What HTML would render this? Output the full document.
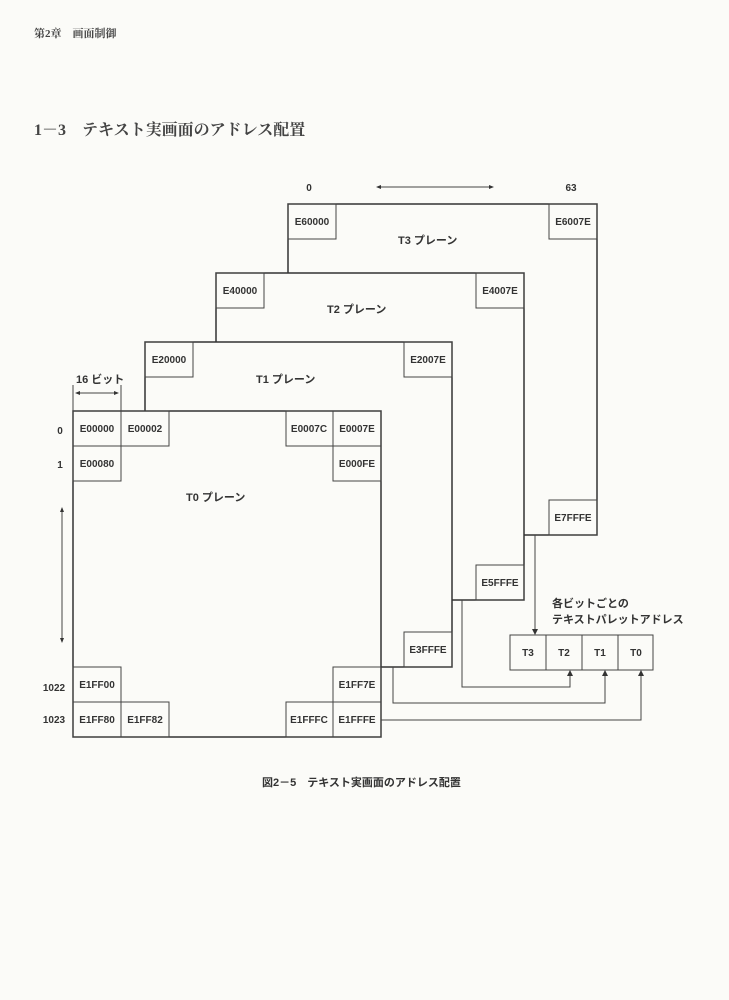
<!DOCTYPE html>
<html><head><meta charset="utf-8"><style>
html,body{margin:0;padding:0;background:#fbfbf8;}
svg{display:block}
text{font-family:"Liberation Sans","Noto Sans CJK JP",sans-serif;fill:#333;}
.c{font-size:10px;font-weight:bold;text-anchor:middle;}
.s{font-family:"Liberation Serif","Noto Serif CJK SC",serif;fill:#444;}
</style></head><body>
<svg width="729" height="1000" viewBox="0 0 729 1000" xmlns="http://www.w3.org/2000/svg">
<text x="34" y="37" class="s" font-size="11" font-weight="bold">第2章　画面制御</text>
<text x="34" y="135" class="s" font-size="16" fill="#333" font-weight="bold">1－3　テキスト実画面のアドレス配置</text>

<g fill="#fbfbf8" stroke="#333" stroke-width="1.5">
<rect x="288" y="204" width="309" height="331"/>
<rect x="216" y="273" width="308" height="327"/>
<rect x="145" y="342" width="307" height="325"/>
<rect x="73" y="411" width="308" height="326"/>
</g>
<g fill="none" stroke="#444" stroke-width="1">
<rect x="288" y="204" width="48" height="35"/><rect x="549" y="204" width="48" height="35"/><rect x="549" y="500" width="48" height="35"/>
<rect x="216" y="273" width="48" height="35"/><rect x="476" y="273" width="48" height="35"/><rect x="476" y="565" width="48" height="35"/>
<rect x="145" y="342" width="48" height="35"/><rect x="404" y="342" width="48" height="35"/><rect x="404" y="632" width="48" height="35"/>
<rect x="73" y="411" width="48" height="35"/><rect x="121" y="411" width="48" height="35"/><rect x="73" y="446" width="48" height="35"/>
<rect x="286" y="411" width="47" height="35"/><rect x="333" y="411" width="48" height="35"/><rect x="333" y="446" width="48" height="35"/>
<rect x="73" y="667" width="48" height="35"/><rect x="73" y="702" width="48" height="35"/><rect x="121" y="702" width="48" height="35"/>
<rect x="333" y="667" width="48" height="35"/><rect x="286" y="702" width="47" height="35"/><rect x="333" y="702" width="48" height="35"/>
<rect x="510" y="635" width="143" height="35"/>
<line x1="546" y1="635" x2="546" y2="670"/><line x1="582" y1="635" x2="582" y2="670"/><line x1="618" y1="635" x2="618" y2="670"/>
<polyline points="535,535 535,633"/>
<polyline points="462,600 462,687 570,687 570,672"/>
<polyline points="393,667 393,703 605,703 605,672"/>
<polyline points="381,720 641,720 641,672"/>
<line x1="378" y1="187" x2="492" y2="187"/>
<line x1="77" y1="393" x2="117" y2="393"/>
<line x1="73" y1="385" x2="73" y2="411"/><line x1="121" y1="385" x2="121" y2="411"/>
<line x1="62" y1="510" x2="62" y2="640"/>
</g>
<g fill="#333">
<polygon points="535,635 532,629 538,629"/>
<polygon points="570,670 567,676 573,676"/>
<polygon points="605,670 602,676 608,676"/>
<polygon points="641,670 638,676 644,676"/>
<polygon points="376,187 381,185 381,189"/><polygon points="494,187 489,185 489,189"/>
<polygon points="75,393 80,391 80,395"/><polygon points="119,393 114,391 114,395"/>
<polygon points="62,507 60,512 64,512"/><polygon points="62,643 60,638 64,638"/>
</g>
<g class="c">
<text x="312" y="225" class="c">E60000</text><text x="573" y="225" class="c">E6007E</text><text x="573" y="521" class="c">E7FFFE</text>
<text x="240" y="294" class="c">E40000</text><text x="500" y="294" class="c">E4007E</text><text x="500" y="586" class="c">E5FFFE</text>
<text x="169" y="363" class="c">E20000</text><text x="428" y="363" class="c">E2007E</text><text x="428" y="653" class="c">E3FFFE</text>
<text x="97" y="432" class="c">E00000</text><text x="145" y="432" class="c">E00002</text><text x="97" y="467" class="c">E00080</text>
<text x="309" y="432" class="c">E0007C</text><text x="357" y="432" class="c">E0007E</text><text x="357" y="467" class="c">E000FE</text>
<text x="97" y="688" class="c">E1FF00</text><text x="97" y="723" class="c">E1FF80</text><text x="145" y="723" class="c">E1FF82</text>
<text x="357" y="688" class="c">E1FF7E</text><text x="309" y="723" class="c">E1FFFC</text><text x="357" y="723" class="c">E1FFFE</text>
<text x="528" y="656" class="c">T3</text><text x="564" y="656" class="c">T2</text><text x="600" y="656" class="c">T1</text><text x="636" y="656" class="c">T0</text>
<text x="309" y="191" class="c">0</text><text x="571" y="191" class="c">63</text>
<text x="60" y="434" class="c">0</text><text x="60" y="468" class="c">1</text>
<text x="54" y="691" class="c">1022</text><text x="54" y="723" class="c">1023</text>
</g>
<g font-size="11" font-weight="bold">
<text x="76" y="383">16 ビット</text>
<text x="398" y="244">T3 プレーン</text>
<text x="327" y="313">T2 プレーン</text>
<text x="256" y="383">T1 プレーン</text>
<text x="186" y="501">T0 プレーン</text>
<text x="552" y="607">各ビットごとの</text>
<text x="552" y="623">テキストパレットアドレス</text>
<text x="262" y="786">図2－5　テキスト実画面のアドレス配置</text>
</g>
</svg>
</body></html>
